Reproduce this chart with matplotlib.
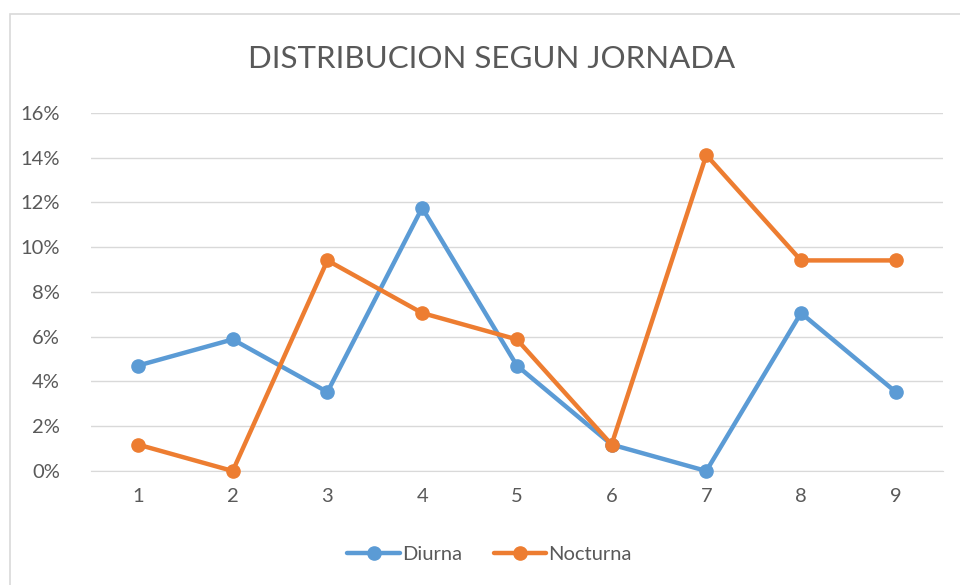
import matplotlib.pyplot as plt
from matplotlib.patches import Rectangle
from matplotlib.ticker import FuncFormatter

# data (percent)
categories = [1, 2, 3, 4, 5, 6, 7, 8, 9]
diurna = [4.71, 5.88, 3.53, 11.76, 4.71, 1.18, 0.0, 7.06, 3.53]
nocturna = [1.18, 0.0, 9.41, 7.06, 5.88, 1.18, 14.12, 9.41, 9.41]
y_ticks = [0, 2, 4, 6, 8, 10, 12, 14, 16]

plt.rcParams['font.family'] = ['Lato', 'DejaVu Sans']

fig = plt.figure(figsize=(9.6, 5.85), dpi=100)
ax = fig.add_axes([0.0944, 0.1949, 0.888, 0.612])

# chart area border
fig.patches.append(Rectangle((10 / 960, -0.1), 1.0, 1 - 14 / 585 + 0.1,
                             transform=fig.transFigure, fill=False,
                             edgecolor='#D9D9D9', linewidth=1.2))

blue = '#5B9BD5'
orange = '#ED7D31'
ax.plot(categories, diurna, color=blue, lw=3.2, marker='o', ms=9.5,
        label='Diurna', solid_capstyle='round', zorder=3, clip_on=False)
ax.plot(categories, nocturna, color=orange, lw=3.2, marker='o', ms=9.5,
        label='Nocturna', solid_capstyle='round', zorder=3, clip_on=False)

ax.set_xlim(0.5, 9.5)
ax.set_ylim(0, 16)
ax.set_xticks(categories)
ax.set_yticks(y_ticks)
ax.yaxis.set_major_formatter(FuncFormatter(lambda v, p: f"{v:.0f}%"))
ax.grid(axis='y', color='#D9D9D9', lw=1)
ax.set_axisbelow(True)
for s in ['top', 'right', 'left']:
    ax.spines[s].set_visible(False)
ax.spines['bottom'].set_color('#D9D9D9')
ax.tick_params(length=0, labelsize=14.5, labelcolor='#595959')
ax.tick_params(axis='y', pad=22)
ax.tick_params(axis='x', pad=12)

fig.text(0.512, 0.9, 'DISTRIBUCION SEGUN JORNADA', ha='center', va='center',
         fontsize=22.5, color='#595959')

fig.legend(loc='center', bbox_to_anchor=(0.51, 0.052), ncol=2, frameon=False,
           fontsize=14.5, labelcolor='#595959', handlelength=2.6,
           handletextpad=0.1, columnspacing=1.6)

fig.savefig('out.png', dpi=100, facecolor='white')
